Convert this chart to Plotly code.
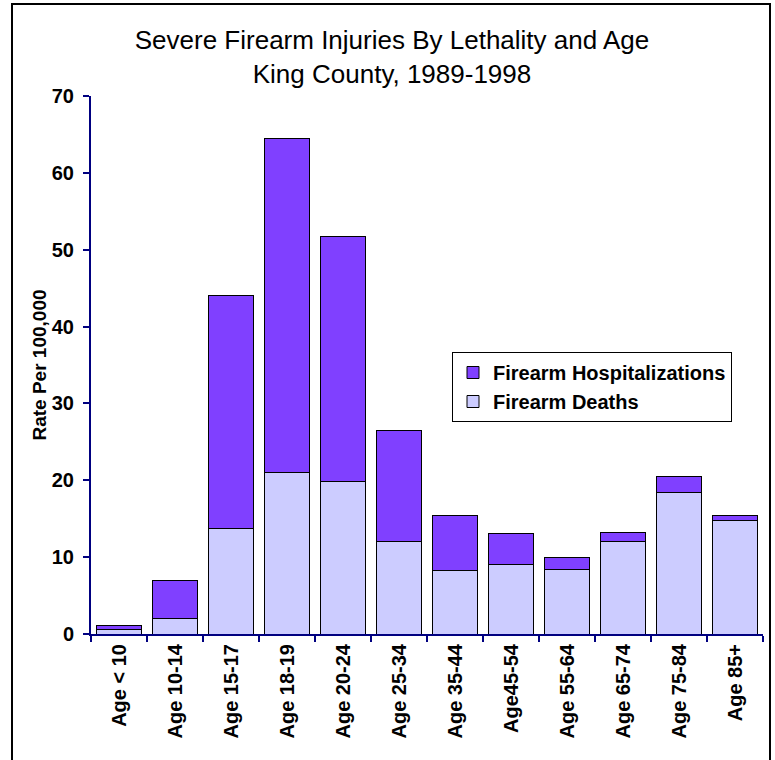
import plotly.graph_objects as go

categories = ["Age < 10", "Age 10-14", "Age 15-17", "Age 18-19", "Age 20-24", "Age 25-34",
              "Age 35-44", "Age45-54", "Age 55-64", "Age 65-74", "Age 75-84", "Age 85+"]
deaths = [0.6, 2.0, 13.7, 21.0, 19.8, 12.1, 8.3, 9.1, 8.4, 12.0, 18.4, 14.8]
totals = [1.1, 6.9, 44.1, 64.5, 51.7, 26.5, 15.4, 13.1, 9.9, 13.2, 20.5, 15.4]
hospitalizations = [round(t - d, 2) for t, d in zip(totals, deaths)]

W, H = 775, 760
PL, PR, PT, PB = 91, 763, 96, 634          # plot area in window pixels
L, T = PL, PT
R, B = W - PR, H - PB
pw, ph = W - L - R, H - T - B

def px_x(x):
    return (x - PL) / pw

def px_y(y):
    return (PB - y) / ph

fig = go.Figure()
fig.add_trace(go.Bar(
    x=categories, y=deaths, name="Firearm Deaths",
    marker=dict(color="#CCCCFF", line=dict(color="#000000", width=1)),
))
fig.add_trace(go.Bar(
    x=categories, y=hospitalizations, name="Firearm Hospitalizations",
    marker=dict(color="#8040FF", line=dict(color="#000000", width=1)),
))

FONT = "Liberation Sans, Arial, sans-serif"
fig.update_layout(
    width=W, height=H,
    margin=dict(l=L, r=R, t=T, b=B, autoexpand=False),
    barmode="stack", bargap=0.2,
    paper_bgcolor="white", plot_bgcolor="white",
    font=dict(family=FONT, color="black"),
    title=dict(
        text="Severe Firearm Injuries By Lethality and Age<br>King County, 1989-1998",
        font=dict(size=26, color="black", family=FONT),
        x=px_x(392), xref="paper", xanchor="center",
        y=1 - 49 / H, yref="container", yanchor="middle",
    ),
    showlegend=True,
    legend=dict(
        x=px_x(452), y=px_y(352), xanchor="left", yanchor="top",
        traceorder="reversed",
        bgcolor="white", bordercolor="black", borderwidth=1,
        font=dict(size=20, color="black", family=FONT, weight="bold"),
        tracegroupgap=0, itemwidth=30,
    ),
    xaxis=dict(
        type="category",
        showline=True, linecolor="#000080", linewidth=2,
        ticks="outside", tickson="boundaries", ticklen=6, tickwidth=2, tickcolor="#000080",
        tickangle=-90,
        tickfont=dict(size=20, color="black", family=FONT, weight="bold"),
        showgrid=False, zeroline=False,
    ),
    yaxis=dict(
        range=[0, 70], dtick=10,
        showline=True, linecolor="#000080", linewidth=2,
        ticks="outside", ticklen=6, tickwidth=2, tickcolor="#000080",
        ticklabelstandoff=5,
        tickfont=dict(size=20, color="black", family=FONT, weight="bold"),
        showgrid=False, zeroline=False,
        title=dict(text="Rate Per 100,000", font=dict(size=19, color="black", family=FONT, weight="bold"), standoff=0),
    ),
    shapes=[dict(
        type="rect", xref="paper", yref="paper",
        x0=px_x(12), x1=px_x(770), y0=px_y(800), y1=px_y(4),
        line=dict(color="black", width=2), fillcolor="rgba(0,0,0,0)", layer="above",
    )],
)

fig.write_html("out.html", config={"displayModeBar": False},
               post_script="document.body.style.margin='0';")
